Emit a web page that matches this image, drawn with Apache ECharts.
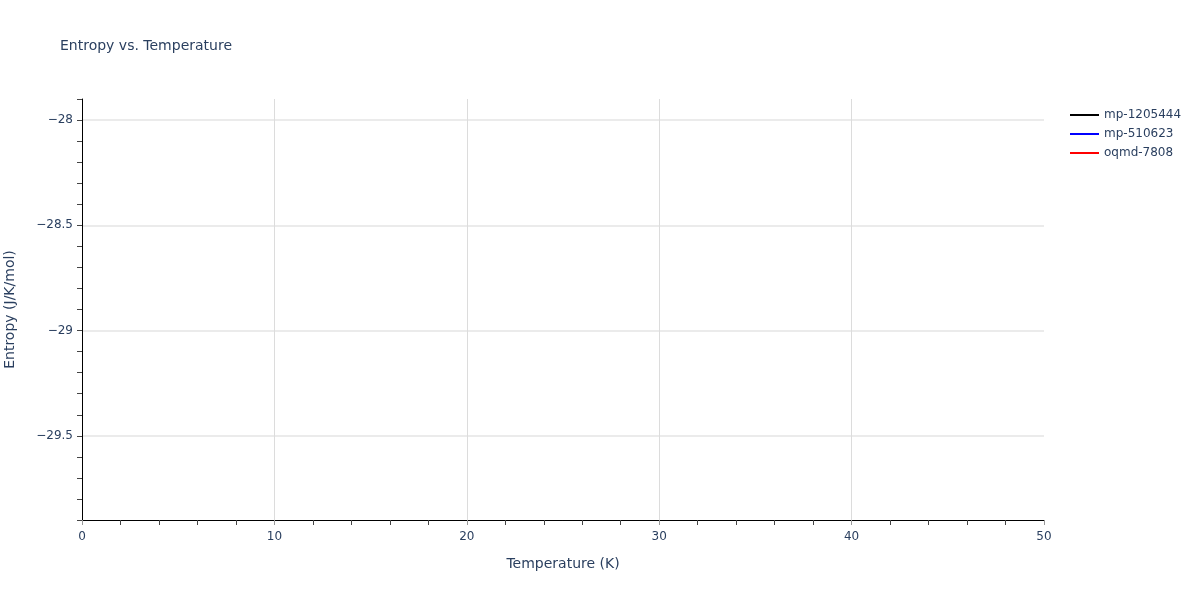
<!DOCTYPE html>
<html>
<head>
<meta charset="utf-8">
<script src="https://cdn.jsdelivr.net/npm/echarts@6/dist/echarts.min.js"></script>
<style>html,body{margin:0;padding:0;background:#fff}#c{width:1200px;height:600px}</style>
</head>
<body>
<div id="c"></div>
<script>
// Data (no points visible in the reference: all series are empty)
const seriesNames = ['mp-1205444', 'mp-510623', 'oqmd-7808'];
const seriesColors = ['#000000', '#0000ff', '#ff0000'];
const temperatures = [];
const entropy_mp1205444 = [];
const entropy_mp510623 = [];
const entropy_oqmd7808 = [];
const seriesValues = [entropy_mp1205444, entropy_mp510623, entropy_oqmd7808];

const xMin = 0, xMax = 50, xStep = 10;
const yMin = -29.9, yMax = -27.9, yStep = 0.1;

const txt = '#2a3f5f';
const font = '"DejaVu Sans", Verdana, sans-serif';

function fmtY(v) {
  const r = Math.round(v * 10);
  if (r % 5 !== 0) return '';
  const a = Math.abs(r / 10);
  return (v < 0 ? '\u2212' : '') + a;
}

const T = 'rgba(0,0,0,0)';
const chart = echarts.init(document.getElementById('c'), null, { renderer: 'canvas' });
chart.setOption({
  animation: false,
  backgroundColor: '#fff',
  title: {
    text: 'Entropy vs. Temperature',
    left: 55, top: 34,
    textStyle: { fontFamily: font, fontSize: 14, fontWeight: 'normal', color: txt }
  },
  legend: {
    orient: 'vertical',
    left: 1065, top: 104,
    itemWidth: 29, itemHeight: 2, itemGap: 7,
    icon: 'rect',
    textStyle: { fontFamily: font, fontSize: 12, color: txt },
    data: seriesNames
  },
  grid: { left: 82, right: 156, top: 99, bottom: 80, containLabel: false, outerBoundsMode: 'none' },
  xAxis: {
    type: 'value',
    min: xMin, max: xMax, interval: xStep,
    name: 'Temperature (K)', nameLocation: 'middle', nameGap: 37,
    nameTextStyle: { fontFamily: font, fontSize: 14, color: txt },
    axisLine: { show: true, onZero: false, lineStyle: { color: '#000', width: 1 } },
    axisTick: { show: true, inside: false, length: 5, lineStyle: { color: '#999' } },
    minorTick: { show: true, splitNumber: 5, length: 5, lineStyle: { color: '#444' } },
    axisLabel: { fontFamily: font, fontSize: 12, color: txt, margin: 11 },
    splitLine: { show: true, showMinLine: false, showMaxLine: false, lineStyle: { color: '#dcdcdc', width: 1 } }
  },
  yAxis: {
    type: 'value',
    min: yMin, max: yMax, interval: yStep,
    name: 'Entropy (J/K/mol)', nameLocation: 'middle', nameGap: 65,
    nameTextStyle: { fontFamily: font, fontSize: 14, color: txt },
    axisLine: { show: true, onZero: false, lineStyle: { color: '#000', width: 1 } },
    axisTick: { show: true, inside: false, length: 5, lineStyle: { color: '#444' } },
    axisLabel: { fontFamily: font, fontSize: 12, color: txt, margin: 9, formatter: fmtY, showMinLabel: true, showMaxLabel: true },
    splitLine: { show: true, showMinLine: false, showMaxLine: false,
      lineStyle: { color: [T, T, T, '#e5e5e5', T], width: 1.5 } }
  },
  series: seriesNames.map((n, i) => ({
    name: n,
    type: 'line',
    showSymbol: false,
    color: seriesColors[i],
    lineStyle: { color: seriesColors[i], width: 2 },
    data: temperatures.map((t, j) => [t, seriesValues[i][j]])
  }))
});
</script>
</body>
</html>
